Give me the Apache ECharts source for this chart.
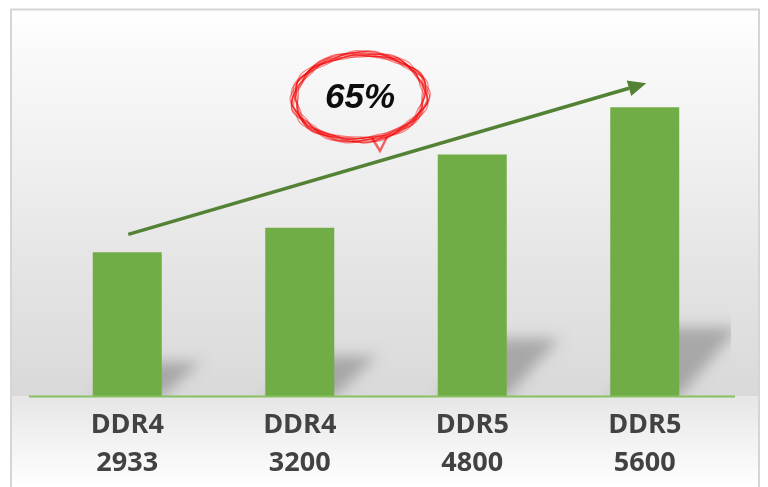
<!DOCTYPE html>
<html>
<head>
<meta charset="utf-8">
<script src="https://cdn.jsdelivr.net/npm/echarts@6/dist/echarts.min.js"></script>
<style>
html,body{margin:0;padding:0;background:#fff;}
#c{width:768px;height:487px;}
</style>
</head>
<body>
<div id="c"></div>
<script>
// ---- data ----
const categories = ['DDR4\n2933', 'DDR4\n3200', 'DDR5\n4800', 'DDR5\n5600'];
const values = [2790, 3265, 4685, 5600];
const annotationText = '65%';

const chart = echarts.init(document.getElementById('c'), null, {renderer: 'canvas'});
const BAR_W = 69;

const option = {
  animation: false,
  backgroundColor: '#ffffff',
  grid: {left: 41, right: 37, top: 86.5, bottom: 90.5},
  xAxis: {
    type: 'category',
    data: categories,
    axisLine: {show: false},
    axisTick: {show: false},
    axisLabel: {
      interval: 0, margin: 10,
      fontFamily: 'Open Sans', fontWeight: 'bold', fontSize: 27, lineHeight: 38,
      color: '#424242'
    }
  },
  yAxis: {type: 'value', min: 0, max: 6000, show: false, splitLine: {show: false}},
  series: [
    {
      type: 'custom',
      clip: true,
      z: 1,
      data: values.map((v, i) => [i, v]),
      encode: {x: 0, y: 1},
      renderItem: function (params, api) {
        const b = api.coord([api.value(0), 0]);
        const t = api.coord([api.value(0), api.value(1)]);
        const h = b[1] - t[1];
        const sh = h * 0.24;
        const dx = 18 + 0.6 * sh;
        const hw = BAR_W / 2;
        const OFF = 3000;
        return {
          type: 'polygon',
          shape: {points: [
            [b[0] - hw - OFF, b[1]], [b[0] + hw - OFF, b[1]],
            [b[0] + hw + dx - OFF, b[1] - sh], [b[0] - hw + dx - OFF, b[1] - sh]
          ]},
          style: {fill: '#000', shadowBlur: 14, shadowColor: 'rgba(0,0,0,0.24)', shadowOffsetX: OFF}
        };
      }
    },
    {
      type: 'bar',
      z: 3,
      data: values,
      barWidth: BAR_W,
      itemStyle: {color: '#70ad47'}
    }
  ]
};
chart.setOption(option);

// ---- decorations anchored to the scales ----
const base = chart.convertToPixel({seriesIndex: 1}, [0, 0]);
const p0 = chart.convertToPixel({seriesIndex: 1}, [0, values[0]]);
const p3 = chart.convertToPixel({seriesIndex: 1}, [3, values[3]]);
const yAxisPx = base[1];

const start = [p0[0] + 1, p0[1] - 18];
const tip = [p3[0] + 1.5, p3[1] - 24];
const vx = tip[0] - start[0], vy = tip[1] - start[1];
const len = Math.sqrt(vx * vx + vy * vy);
const ux = vx / len, uy = vy / len;
const HL = 18, HW = 8;
const bc = [tip[0] - HL * ux, tip[1] - HL * uy];
const px = -uy, py = ux;

// scribbled ellipse
const ecx = 360, ecy = 97;
const loops = [];
for (let k = 0; k < 11; k++) {
  const rx = 66 + 3 * Math.sin(k * 1.7);
  const ry = 43 + 2.5 * Math.cos(k * 2.3);
  const pts = [];
  for (let j = 0; j <= 140; j++) {
    const a = Math.PI * 0.58 + (j / 140) * Math.PI * 2.0;
    const w = 1 + 0.02 * Math.sin(11 * a + k * 1.3);
    const x0 = rx * w * Math.cos(a), y0 = ry * w * Math.sin(a);
    const rot = -0.06;
    pts.push([ecx + x0 * Math.cos(rot) - y0 * Math.sin(rot), ecy + x0 * Math.sin(rot) + y0 * Math.cos(rot)]);
  }
  loops.push({
    type: 'polyline', z: 50, silent: true,
    shape: {points: pts, smooth: 0.3},
    style: {stroke: 'rgba(245,0,0,0.45)', lineWidth: 1.3, fill: null}
  });
}
loops.push({
  type: 'polyline', z: 50, silent: true,
  shape: {points: [[ecx + 12, ecy + 41], [ecx + 20, ecy + 54], [ecx + 27, ecy + 40]]},
  style: {stroke: 'rgba(245,0,0,0.6)', lineWidth: 2.5, fill: null}
});

chart.setOption({
  graphic: {
    elements: [
      {
        type: 'rect', z: -10, silent: true,
        shape: {x: 12, y: 10, width: 746, height: yAxisPx - 10},
        style: {fill: new echarts.graphic.LinearGradient(0, 0, 0, 1, [
          {offset: 0, color: '#ffffff'}, {offset: 0.1, color: '#fafafa'},
          {offset: 0.4, color: '#efefef'}, {offset: 0.65, color: '#e5e5e5'},
          {offset: 1, color: '#d9d9d9'}])}
      },
      {
        type: 'rect', z: -10, silent: true,
        shape: {x: 12, y: yAxisPx, width: 746, height: 487 - yAxisPx},
        style: {fill: new echarts.graphic.LinearGradient(0, 0, 0, 1, [
          {offset: 0, color: '#e6e6e6'}, {offset: 1, color: '#ffffff'}])}
      },
      {
        type: 'rect', z: -9, silent: true,
        shape: {x: 11, y: 9.5, width: 748, height: 520},
        style: {fill: null, stroke: '#d5d5d5', lineWidth: 2}
      },
      {
        type: 'line', z: 40, silent: true,
        shape: {x1: 29, y1: yAxisPx, x2: 735, y2: yAxisPx},
        style: {stroke: '#88c063', lineWidth: 2}
      },
      {
        type: 'line', z: 60, silent: true,
        shape: {x1: start[0], y1: start[1], x2: bc[0], y2: bc[1]},
        style: {stroke: '#548235', lineWidth: 3.5}
      },
      {
        type: 'polygon', z: 60, silent: true,
        shape: {points: [tip, [bc[0] + HW * px, bc[1] + HW * py], [bc[0] - HW * px, bc[1] - HW * py]]},
        style: {fill: '#548235'}
      },
      ...loops,
      {
        type: 'text', z: 70, silent: true, x: ecx, y: ecy + 1,
        style: {
          text: annotationText, font: 'italic bold 35px "Liberation Sans"',
          fill: '#0d0d0d', align: 'center', verticalAlign: 'middle',
          textAlign: 'center', textVerticalAlign: 'middle'
        }
      }
    ]
  }
});
</script>
</body>
</html>
